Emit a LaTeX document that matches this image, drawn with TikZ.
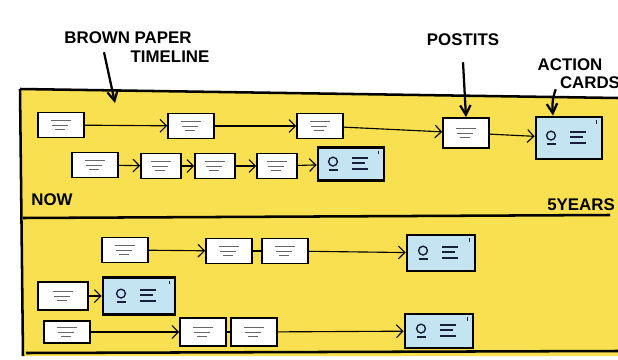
\documentclass[tikz,border=0pt]{standalone}
\usepackage{fontspec}
\setmainfont{Liberation Sans}
\usetikzlibrary{arrows.meta,positioning}

\definecolor{paper}{RGB}{249,224,80}
\definecolor{cardblue}{RGB}{196,228,242}
\definecolor{ink}{RGB}{25,30,60}

\tikzset{
  postit/.style={draw, line width=1.2pt, fill=white, minimum width=11.5mm, minimum height=6.3mm, inner sep=0pt,
    path picture={
      \draw[gray!80!black, line width=0.6pt]
        ([shift={(-2.6mm,1.2mm)}]path picture bounding box.center) -- ++(5mm,0)
        ([shift={(-2.2mm,0mm)}]path picture bounding box.center) -- ++(4mm,0)
        ([shift={(-1.4mm,-1.2mm)}]path picture bounding box.center) -- ++(2.5mm,0);
    }},
  actioncard/.style={draw, line width=2pt, fill=cardblue, minimum width=16.5mm, minimum height=9mm, inner sep=0pt,
    path picture={
      \draw[ink, line width=1pt] ([shift={(-4.5mm,0.6mm)}]path picture bounding box.center) circle (1.1mm);
      \draw[ink, line width=1.5pt]
        ([shift={(-5.6mm,-1.6mm)}]path picture bounding box.center) -- ++(2.4mm,0)
        ([shift={(0.2mm,1.6mm)}]path picture bounding box.center) -- ++(4mm,0)
        ([shift={(0.2mm,0.2mm)}]path picture bounding box.center) -- ++(3.4mm,0)
        ([shift={(0.2mm,-1.2mm)}]path picture bounding box.center) -- ++(4mm,0);
      \draw[ink, line width=0.8pt] ([shift={(-1.4mm,-0.8mm)}]path picture bounding box.north east) -- ++(0,-0.9mm);
    }},
  link/.style={-{Straight Barb[length=1.6mm]}, line width=0.8pt},
  pointer/.style={-{Straight Barb[length=2.4mm,width=2.6mm]}, line width=1.6pt},
  hand/.style={font=\fontsize{12}{14}\selectfont\bfseries, inner sep=0pt},
  border/.style={line width=1.8pt}
}

\begin{document}
\begin{tikzpicture}[x=0.25mm, y=-0.25mm]
  \useasboundingbox (0,0) rectangle (618,360);

  % the paper strip
  \fill[paper] (20,89) -- (618,98) -- (618,356) -- (22,356) -- cycle;
  \draw[border] (20,89) -- (618,98);
  \draw[border] (20,89) -- (23,356);
  \draw[border] (23,218) -- (610,215);
  \draw[border] (26,353) -- (618,351);

  % labels
  \node[hand] (brownlbl) at (128,38) {BROWN PAPER};
  \node[hand] (timelbl) at (170,57) {TIMELINE};
  \node[hand] (postlbl) at (463,40) {POSTITS};
  \node[hand] (actlbl) at (570,65) {ACTION};
  \node[hand] (cardlbl) at (590,83) {CARDS};
  \node[hand] (nowlbl) at (52,200) {NOW};
  \node[hand] (yearslbl) at (581,205) {5YEARS};

  % first row
  \node[postit] (p11) at (61,125) {};
  \node[postit] (p12) at (191,126) {};
  \node[postit] (p13) at (320,126) {};
  \node[postit, minimum height=7.5mm] (p14) at (466,133) {};
  \node[actioncard, minimum height=10.5mm] (c1) at (569,138) {};

  % second row
  \node[postit] (p21) at (95,165) {};
  \node[postit, minimum width=10mm] (p22) at (161,166) {};
  \node[postit, minimum width=10mm] (p23) at (215,166) {};
  \node[postit, minimum width=10mm] (p24) at (277,166) {};
  \node[actioncard, minimum height=8.3mm] (c2) at (351,164) {};

  % third row
  \node[postit] (p31) at (125,250) {};
  \node[postit] (p32) at (229,251) {};
  \node[postit] (p33) at (285,251) {};
  \node[actioncard, minimum width=17mm] (c3) at (441,253) {};

  % fourth row
  \node[postit, minimum width=12.5mm, minimum height=7mm] (p41) at (63,296) {};
  \node[actioncard, minimum width=18mm, minimum height=9.3mm] (c4) at (139,296) {};

  % fifth row
  \node[postit, minimum height=5.6mm] (p51) at (67,332) {};
  \node[postit, minimum height=7mm] (p52) at (203,332) {};
  \node[postit, minimum height=7mm] (p53) at (254,332) {};
  \node[actioncard, minimum width=17mm, minimum height=8.5mm] (c5) at (439,331) {};

  \draw[link] (p11) -- (p12);
  \draw[link] (p12) -- (p13);
  \draw[link] (p13) -- (p14);
  \draw[link] (p14) -- (c1);

  \draw[link] (p21) -- (p22);
  \draw[link] (p22) -- (p23);
  \draw[link] (p23) -- (p24);
  \draw[link] (p24) -- (c2);

  \draw[link] (p31) -- (p32);
  \draw[line width=0.8pt] (p32) -- (p33);
  \draw[link] (p33) -- (c3);

  \draw[link] (p41) -- (c4);

  \draw[link] (p51) -- (p52);
  \draw[line width=0.8pt] (p52) -- (p53);
  \draw[link] (p53) -- (c5);

  % pointers from the labels
  \coordinate (strip) at (115,103);
  \draw[pointer] ([xshift=-6mm, yshift=-2mm]brownlbl.south) -- (strip);
  \draw[pointer] ([yshift=-4mm]postlbl.south) -- (p14.north);
  \draw[pointer] ([xshift=-1mm]cardlbl.south west) to[out=-110, in=95] ([xshift=-4mm]c1.north);
\end{tikzpicture}
\end{document}
